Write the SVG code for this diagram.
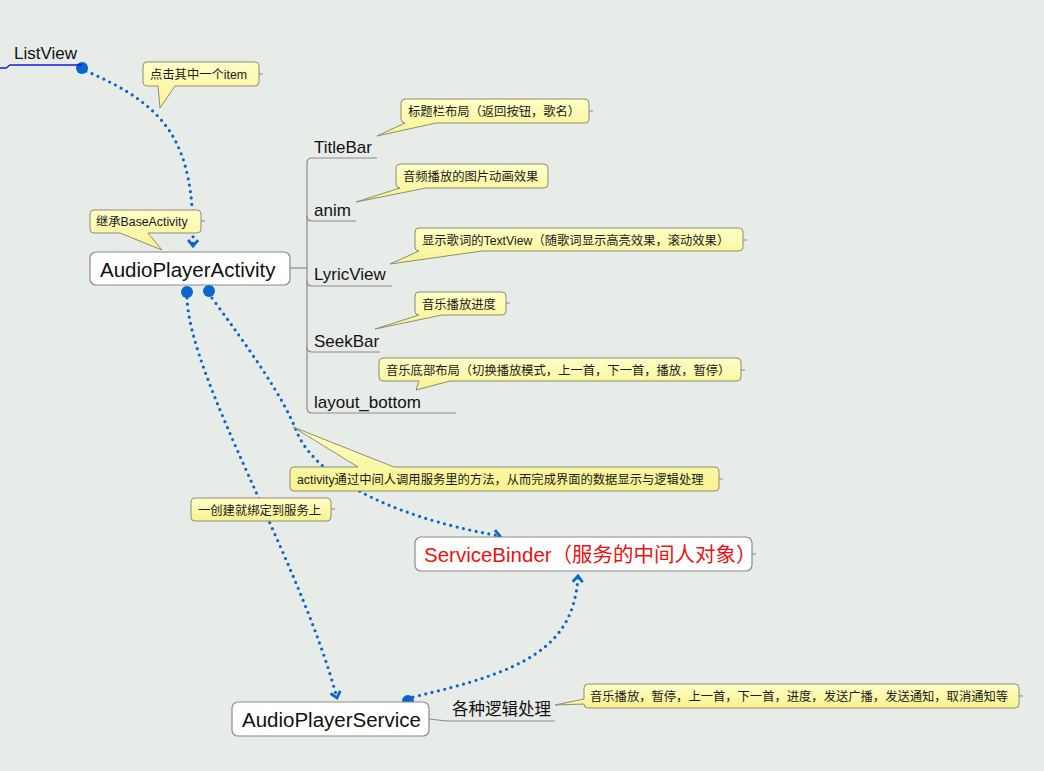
<svg xmlns="http://www.w3.org/2000/svg" width="1044" height="771" viewBox="0 0 1044 771">
<defs>
<linearGradient id="cg" x1="0" y1="0" x2="0" y2="1">
<stop offset="0" stop-color="#ffffc8"/>
<stop offset="1" stop-color="#f8f28e"/>
</linearGradient>
<marker id="arr" markerUnits="userSpaceOnUse" markerWidth="14" markerHeight="14" viewBox="-8 -7 10 14" refX="0" refY="0" orient="auto">
<path d="M-6,-5 L0,0 L-6,5" fill="none" stroke="#0a66cc" stroke-width="2.8" stroke-linejoin="miter"/>
</marker>
<style>
.bg{fill:#e8ece8}
.call{fill:url(#cg);stroke:#8c8c78;stroke-width:1}
.ct{font-family:"Liberation Sans","Noto Sans CJK SC",sans-serif;font-size:12.3px;fill:#1a1a1a}
.node{fill:#ffffff;stroke:#8a8a8a;stroke-width:1.2}
.nt{font-family:"Liberation Sans","Noto Sans CJK SC",sans-serif;font-size:20.5px;fill:#111}
.sub{font-family:"Liberation Sans","Noto Sans CJK SC",sans-serif;font-size:17px;fill:#111}
.br{fill:none;stroke:#8a8a8a;stroke-width:1.2}
.stub{stroke:#8a8a8a;stroke-width:1}
.dot{fill:#0a66cc}
.dl{fill:none;stroke:#0a66cc;stroke-width:3.2;stroke-dasharray:0 6.5;stroke-linecap:round}
</style>
</defs>
<rect class="bg" x="0" y="0" width="1044" height="771"/>

<g id="connectors">
<path class="dl" d="M86,71 C165,105 195,140 193,246" marker-end="url(#arr)"/>
<path class="dl" d="M187,298 C190,380 300,560 337,698" marker-end="url(#arr)"/>
<path class="dl" d="M212,298 C250,350 282,395 296,430 C312,472 380,515 500,536" marker-end="url(#arr)"/>
<path class="dl" d="M413,697 C520,672 574,650 578,576" marker-end="url(#arr)"/>
<circle class="dot" cx="82" cy="68" r="6"/>
<circle class="dot" cx="187" cy="292" r="6"/>
<circle class="dot" cx="209" cy="291" r="6"/>
<circle class="dot" cx="408" cy="701" r="6"/>
<path class="br" d="M290,268 H307"/>
<path class="br" d="M307,163 Q307,158 312,158 H377"/>
<path class="br" d="M307,163 V408"/>
<path class="br" d="M307,216 Q307,221 312,221 H356"/>
<path class="br" d="M307,281 Q307,286 312,286 H392"/>
<path class="br" d="M307,347 Q307,352 312,352 H380"/>
<path class="br" d="M307,408 Q307,413 312,413 H456"/>
<path class="br" d="M429,719 L447,721 H555"/>
<path fill="none" stroke="#1a1adc" stroke-width="1.3" d="M0,68 H6 L10,65 H82"/>
</g>

<g id="listview">
<text class="sub" x="14" y="59">ListView</text>
</g>

<g id="callout-item">
<path class="call" d="M147,62 H255 Q259,62 259,66 V82 Q259,86 255,86 H175 L160,108 L158,86 H147 Q143,86 143,82 V66 Q143,62 147,62 Z"/>
<line class="stub" x1="259" y1="74" x2="263" y2="74"/>
<text class="ct" x="150" y="79">点击其中一个item</text>
</g>

<g id="callout-base">
<path class="call" d="M94,210 H197 Q201,210 201,214 V229 Q201,233 197,233 H148 L162,250 L120,233 H94 Q90,233 90,229 V214 Q90,210 94,210 Z"/>
<line class="stub" x1="201" y1="221" x2="205" y2="221"/>
<text class="ct" x="96" y="226">继承BaseActivity</text>
</g>

<g id="audio-player-activity">
<rect class="node" x="90" y="252" width="200" height="33" rx="6"/>
<text class="nt" x="100" y="277">AudioPlayerActivity</text>
</g>

<g id="titlebar">
<text class="sub" x="314" y="153">TitleBar</text>
<path class="call" d="M405,99 H585 Q589,99 589,103 V119 Q589,123 585,123 H436 L377,136 L405,123 Q401,123 401,119 V103 Q401,99 405,99 Z"/>
<line class="stub" x1="589" y1="111" x2="593" y2="111"/>
<text class="ct" x="408" y="116">标题栏布局（返回按钮，歌名）</text>
</g>

<g id="anim">
<text class="sub" x="314" y="216">anim</text>
<path class="call" d="M400,164 H544 Q548,164 548,168 V184 Q548,188 544,188 H426 L356,202 L400,188 Q396,188 396,184 V168 Q396,164 400,164 Z"/>
<text class="ct" x="403" y="181">音频播放的图片动画效果</text>
</g>

<g id="lyricview">
<text class="sub" x="314" y="280">LyricView</text>
<path class="call" d="M419,228 H739 Q743,228 743,232 V247 Q743,251 739,251 H482 L390,264 L419,251 Q415,251 415,247 V232 Q415,228 419,228 Z"/>
<line class="stub" x1="743" y1="240" x2="747" y2="240"/>
<text class="ct" x="422" y="245">显示歌词的TextView（随歌词显示高亮效果，滚动效果）</text>
</g>

<g id="seekbar">
<text class="sub" x="314" y="347">SeekBar</text>
<path class="call" d="M419,292 H502 Q506,292 506,296 V311 Q506,315 502,315 H442 L375,329 L419,315 Q415,315 415,311 V296 Q415,292 419,292 Z"/>
<line class="stub" x1="506" y1="303" x2="510" y2="303"/>
<text class="ct" x="422" y="309">音乐播放进度</text>
</g>

<g id="layout-bottom">
<text class="sub" x="314" y="408">layout_bottom</text>
<path class="call" d="M383,358 H737 Q741,358 741,362 V377 Q741,381 737,381 H450 L416,390 L419,381 H383 Q379,381 379,377 V362 Q379,358 383,358 Z"/>
<line class="stub" x1="741" y1="370" x2="745" y2="370"/>
<text class="ct" x="386" y="375">音乐底部布局（切换播放模式，上一首，下一首，播放，暂停）</text>
</g>

<g id="callout-activity">
<path class="call" d="M294,467 H358 L293,427 L394,467 H715 Q719,467 719,471 V487 Q719,491 715,491 H294 Q290,491 290,487 V471 Q290,467 294,467 Z"/>
<line class="stub" x1="719" y1="479" x2="723" y2="479"/>
<text class="ct" x="297" y="484">activity通过中间人调用服务里的方法，从而完成界面的数据显示与逻辑处理</text>
</g>

<g id="callout-bind">
<rect class="call" x="191" y="498" width="140" height="23" rx="4"/>
<line class="stub" x1="331" y1="509" x2="335" y2="509"/>
<text class="ct" x="198" y="515">一创建就绑定到服务上</text>
</g>

<g id="service-binder">
<rect class="node" x="415" y="537" width="337" height="34" rx="6"/>
<line class="stub" x1="752" y1="554" x2="756" y2="554"/>
<text class="nt" x="424" y="562" style="fill:#ee1111">ServiceBinder（服务的中间人对象）</text>
</g>

<g id="audio-player-service">
<rect class="node" x="232" y="702" width="197" height="34" rx="6"/>
<text class="nt" x="242" y="727">AudioPlayerService</text>
</g>

<g id="logic">
<text class="sub" x="452" y="715" style="font-size:16.5px">各种逻辑处理</text>
<path class="call" d="M588,684 H1015 Q1019,684 1019,688 V704 Q1019,708 1015,708 H588 Q584,708 584,704 L555,705 L584,699 V688 Q584,684 588,684 Z"/>
<line class="stub" x1="1019" y1="696" x2="1023" y2="696"/>
<text class="ct" x="590" y="701">音乐播放，暂停，上一首，下一首，进度，发送广播，发送通知，取消通知等</text>
</g>
</svg>
